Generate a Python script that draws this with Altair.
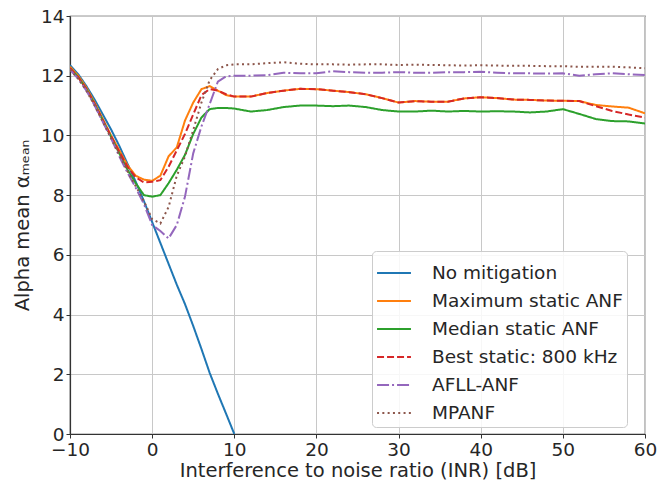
import altair as alt
import pandas as pd

# INR [dB]
x_vals = list(range(-10, 11)) + list(range(12, 61, 2))

series_names = ["No mitigation", "Maximum static ANF", "Median static ANF",
                "Best static: 800 kHz", "AFLL-ANF", "MPANF"]

no_mitigation = [12.35, 12.05, 11.65, 11.2, 10.7, 10.2, 9.65, 9.05, 8.45, 7.8,
                 7.1, 6.4, 5.7, 5.0, 4.35, 3.62, 2.85, 2.05, 1.35, 0.68, 0.0]

max_static = [12.3, 12.0, 11.6, 11.1, 10.55, 10.0, 9.5, 9.0, 8.65, 8.52,
              8.48, 8.65, 9.3, 9.6, 10.5, 11.1, 11.55, 11.65, 11.5, 11.35, 11.3,
              11.3, 11.42, 11.5, 11.56, 11.55, 11.5, 11.45, 11.38, 11.25, 11.1,
              11.15, 11.13, 11.13, 11.24, 11.28, 11.25, 11.2, 11.19, 11.17, 11.16,
              11.15, 11.02, 10.97, 10.93, 10.74]

median_static = [12.25, 11.95, 11.55, 11.05, 10.5, 9.95, 9.4, 8.85, 8.4, 8.0,
                 7.95, 8.0, 8.4, 8.85, 9.35, 10.05, 10.6, 10.88, 10.92, 10.92, 10.9,
                 10.8, 10.85, 10.95, 11.0, 11.0, 10.98, 11.0, 10.95, 10.85, 10.8,
                 10.8, 10.83, 10.8, 10.82, 10.8, 10.81, 10.8, 10.77, 10.8, 10.88,
                 10.72, 10.55, 10.48, 10.47, 10.4]

best_static = [12.25, 11.95, 11.55, 11.05, 10.5, 9.97, 9.45, 8.95, 8.6, 8.42,
               8.45, 8.5, 8.95, 9.5, 10.05, 10.7, 11.35, 11.55, 11.5, 11.38, 11.3,
               11.3, 11.42, 11.5, 11.56, 11.55, 11.5, 11.45, 11.38, 11.25, 11.1,
               11.15, 11.13, 11.13, 11.24, 11.28, 11.25, 11.2, 11.19, 11.17, 11.16,
               11.15, 10.98, 10.82, 10.7, 10.6]

afll_anf = [12.2, 11.9, 11.5, 11.0, 10.45, 9.9, 9.3, 8.75, 8.25, 7.7,
            7.0, 6.8, 6.55, 7.0, 7.95, 9.4, 10.3, 11.05, 11.8, 11.98, 12.0,
            12.0, 12.02, 12.1, 12.08, 12.08, 12.15, 12.12, 12.1, 12.1, 12.12,
            12.1, 12.1, 12.12, 12.12, 12.13, 12.1, 12.08, 12.08, 12.07, 12.08,
            12.0, 12.05, 12.08, 12.05, 12.02]

mpanf = [12.2, 11.9, 11.5, 11.0, 10.45, 9.9, 9.35, 8.8, 8.3, 7.8,
         7.2, 7.05, 7.6, 8.65, 9.3, 10.18, 11.1, 11.85, 12.22, 12.35, 12.38,
         12.38, 12.42, 12.45, 12.4, 12.38, 12.38, 12.37, 12.38, 12.38, 12.36,
         12.37, 12.36, 12.35, 12.34, 12.35, 12.34, 12.33, 12.33, 12.32, 12.32,
         12.3, 12.3, 12.3, 12.28, 12.25]

all_series = [no_mitigation, max_static, median_static, best_static, afll_anf, mpanf]

rows = []
for name, vals in zip(series_names, all_series):
    for xv, yv in zip(x_vals, vals):
        rows.append({"INR": xv, "alpha": yv, "series": name})
df = pd.DataFrame(rows)

colors = ["#1f77b4", "#ff7f0e", "#2ca02c", "#d62728", "#9467bd", "#8c564b"]
dashes = [[1, 0], [1, 0], [1, 0], [7, 3], [12, 3, 2, 3], [2, 3.3]]

font = "DejaVu Sans"

legend = alt.Legend(title=None, orient="none", legendX=302, legendY=235)

chart = alt.Chart(df).mark_line(strokeWidth=2, clip=True).encode(
    x=alt.X("INR:Q",
            scale=alt.Scale(domain=[-10, 60], nice=False, zero=False),
            axis=alt.Axis(values=list(range(-10, 61, 10)),
                          title="Interference to noise ratio (INR) [dB]",
                          labelExpr="replace(datum.label, '-', '\u2212')")),
    y=alt.Y("alpha:Q",
            scale=alt.Scale(domain=[0, 14], nice=False),
            axis=alt.Axis(values=list(range(0, 15, 2)),
                          title="Alpha mean \u03b1\u2098\u2091\u2090\u2099")),
    color=alt.Color("series:N",
                    scale=alt.Scale(domain=series_names, range=colors),
                    legend=legend),
    strokeDash=alt.StrokeDash("series:N",
                              scale=alt.Scale(domain=series_names, range=dashes),
                              legend=legend),
).properties(
    width=575, height=418,
    autosize=alt.AutoSizeParams(type="none"),
    padding={"left": 70, "top": 16, "right": 13, "bottom": 53},
).configure_view(
    stroke="#333333", strokeWidth=1.2
).configure_axis(
    labelFont=font, titleFont=font, labelFontSize=18.5, titleFontSize=19.5,
    labelColor="#262626", titleColor="#262626", titleFontWeight="normal",
    domainColor="#333333", domainWidth=1.2, tickColor="#333333", tickSize=4,
    gridColor="#c8c8c8", gridWidth=1, labelPadding=2,
).configure_axisX(
    titlePadding=3, labelPadding=2, labelFlush=False
).configure_axisY(
    titlePadding=8, labelFlush=False
).configure_legend(
    labelFont=font, labelFontSize=18.5, labelColor="#262626", labelLimit=0,
    symbolType="stroke", symbolStrokeWidth=2, symbolSize=1150,
    labelOffset=20, rowPadding=0, padding=4,
    strokeColor="#cccccc", fillColor="rgba(255,255,255,0.85)", cornerRadius=4,
)

chart.save("out.html", embed_options={"renderer": "svg", "actions": False})
